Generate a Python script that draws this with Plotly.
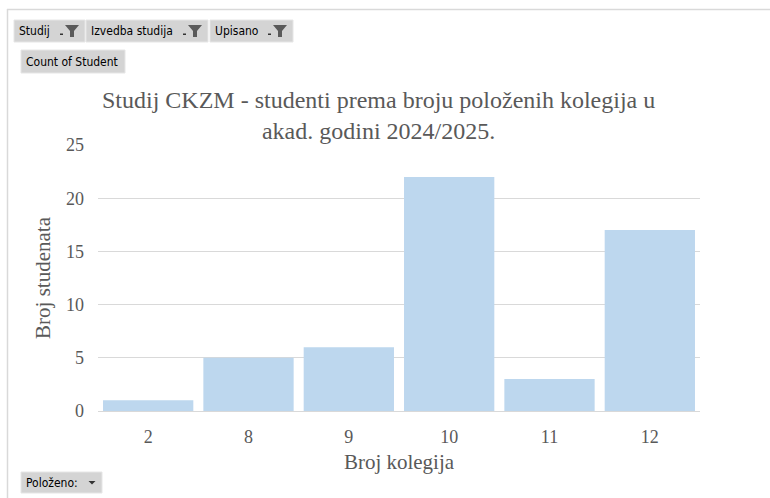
import plotly.graph_objects as go

categories = ["2", "8", "9", "10", "11", "12"]
counts = [1, 5, 6, 22, 3, 17]
y_ticks = [0, 5, 10, 15, 20, 25]

title_text = "Studij CKZM - studenti prema broju položenih kolegija u<br>akad. godini 2024/2025."
x_title = "Broj kolegija"
y_title = "Broj studenata"
filter_buttons = ["Studij", "Izvedba studija", "Upisano"]
value_button = "Count of Student"
axis_button = "Položeno:"

W, H = 770, 498
L, R, T, B = 98, 70, 145, 87
PW, PH = W - L - R, H - T - B


def px(x):
    return (x - L) / PW


def py(y):
    return (H - B - y) / PH


fig = go.Figure(go.Bar(
    x=categories, y=counts, marker=dict(color="#bdd7ee", line=dict(width=0)),
    width=0.9, hoverinfo="x+y",
))

shapes = []
annotations = []

# outer chart border (top and left)
shapes.append(dict(type="line", xref="paper", yref="paper", x0=px(7), x1=px(770), y0=py(9.5), y1=py(9.5),
                   line=dict(color="#d9d9d9", width=1.5), layer="above"))
shapes.append(dict(type="line", xref="paper", yref="paper", x0=px(7.5), x1=px(7.5), y0=py(9), y1=py(498),
                   line=dict(color="#d9d9d9", width=1.5), layer="above"))

btn_font = dict(family="DejaVu Sans Condensed", size=12, color="#000000")


def button(x0, x1, y0, y1, label, icon=None):
    shapes.append(dict(type="rect", xref="paper", yref="paper", x0=px(x0), x1=px(x1), y0=py(y1), y1=py(y0),
                       fillcolor="#d4d4d4", line=dict(color="#e6e6e6", width=1), layer="above"))
    annotations.append(dict(xref="paper", yref="paper", x=px(x0 + 3), y=py((y0 + y1) / 2), text=label,
                            showarrow=False, xanchor="left", yanchor="middle", font=btn_font))
    if icon == "filter":
        cx = x1 - 13
        cy = (y0 + y1) / 2
        # funnel
        path = "M {} {} L {} {} L {} {} L {} {} L {} {} L {} {} Z".format(
            px(cx - 7), py(cy - 6), px(cx + 7), py(cy - 6), px(cx + 2), py(cy + 0),
            px(cx + 2), py(cy + 6), px(cx - 2), py(cy + 6), px(cx - 2), py(cy + 0))
        shapes.append(dict(type="path", xref="paper", yref="paper", path=path,
                           fillcolor="#5a5a5a", line=dict(width=0), layer="above"))
        # small dash
        shapes.append(dict(type="rect", xref="paper", yref="paper", x0=px(cx - 12), x1=px(cx - 9),
                           y0=py(cy + 4), y1=py(cy + 2.5), fillcolor="#333333", line=dict(width=0), layer="above"))
    elif icon == "dropdown":
        cx = x1 - 10
        cy = (y0 + y1) / 2
        path = "M {} {} L {} {} L {} {} Z".format(px(cx - 3.5), py(cy - 1.5), px(cx + 3.5), py(cy - 1.5),
                                                  px(cx), py(cy + 2))
        shapes.append(dict(type="path", xref="paper", yref="paper", path=path,
                           fillcolor="#333333", line=dict(width=0), layer="above"))


button(14, 85, 20, 42, filter_buttons[0], "filter")
button(86, 208, 20, 42, filter_buttons[1], "filter")
button(210, 293, 20, 42, filter_buttons[2], "filter")
button(21, 125, 50, 73, value_button)
button(21, 102, 472, 493, axis_button, "dropdown")

# title
annotations.append(dict(xref="paper", yref="paper", x=px(378), y=py(115), text=title_text, showarrow=False,
                        xanchor="center", yanchor="middle",
                        font=dict(family="Liberation Serif", size=24, color="#595959")))

fig.update_layout(
    width=W, height=H,
    margin=dict(l=L, r=R, t=T, b=B, pad=0),
    paper_bgcolor="white", plot_bgcolor="white",
    showlegend=False,
    bargap=0.1,
    xaxis=dict(
        type="category", showgrid=False, showline=True, linecolor="#d9d9d9", linewidth=1,
        ticks="", ticklabelstandoff=9,
        tickfont=dict(family="Liberation Serif", size=18, color="#595959"),
        title=dict(text=x_title, font=dict(family="Liberation Serif", size=21, color="#595959"), standoff=8),
        fixedrange=True,
    ),
    yaxis=dict(
        range=[0, 25], tickvals=y_ticks, showgrid=True, gridcolor="#d9d9d9", gridwidth=1,
        zeroline=False, showline=False, ticks="", ticklen=0, ticklabelstandoff=13,
        tickfont=dict(family="Liberation Serif", size=18, color="#595959"),
        title=dict(text=y_title, font=dict(family="Liberation Serif", size=21, color="#595959"), standoff=9),
        fixedrange=True,
    ),
    shapes=shapes,
    annotations=annotations,
)

fig.write_html("out.html", config={"displayModeBar": False},
               post_script="document.body.style.margin='0px';")
